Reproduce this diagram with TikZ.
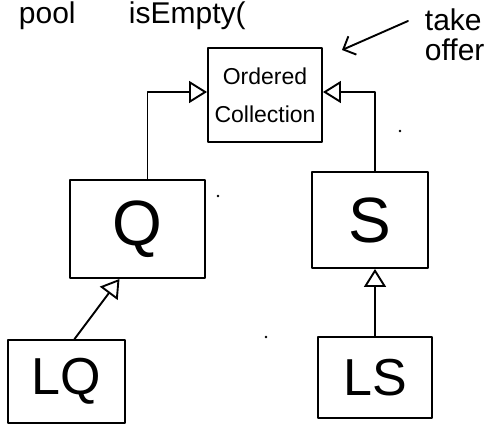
\documentclass[tikz,border=0pt]{standalone}
\usepackage{fontspec}
\setmainfont{Liberation Sans}
\usetikzlibrary{arrows.meta}
\begin{document}
\begin{tikzpicture}[x=1pt,y=-1pt,line width=1.9pt,line join=round,line cap=round,
  box/.style={draw,rectangle,inner sep=0pt},
  inh/.style={-{Triangle[open,length=18pt,width=22pt]}},
  note/.style={-{Straight Barb[length=10pt,width=20pt]}},
  big/.style={font=\fontsize{64}{66}\selectfont},
  mid/.style={font=\fontsize{52}{54}\selectfont},
  hand/.style={font=\fontsize{30}{32}\selectfont},
  stray/.style={fill,circle,inner sep=0pt,minimum size=2.6pt}]
\useasboundingbox (0,0) rectangle (496,430);
% top text
\node[hand,anchor=base west,inner sep=0pt] (pool) at (18,24) {pool};
\node[hand,anchor=base west,inner sep=0pt] (isempty) at (128,24) {isEmpty(};
% boxes
\node[box,minimum width=114pt,minimum height=94pt,align=center,
      font=\fontsize{23}{38}\selectfont] (OC) at (265,95) {Ordered\\Collection};
\node[box,big,minimum width=135pt,minimum height=98pt] (Q) at (137.5,229) {Q};
\node[box,big,minimum width=116pt,minimum height=96pt] (S) at (370,220) {S};
\node[box,mid,minimum width=117pt,minimum height=83pt] (LQ) at (66.5,381.5) {LQ};
\node[box,mid,minimum width=114pt,minimum height=81pt] (LS) at (375,377.5) {LS};
% take offer note
\node[align=left,font=\fontsize{30}{30}\selectfont,inner sep=0pt,anchor=north west] (take) at (424,8) {take\\offer};
\coordinate (nstart) at (408,21);
\coordinate (ntip) at (342,50);
\draw[note] (nstart) -- (ntip);
% inheritance connectors
\draw[inh] ([xshift=10pt]Q.north) |- ([yshift=3pt]OC.west);
\draw[inh] ([xshift=5pt]S.north) |- ([yshift=3pt]OC.east);
\draw[inh] ([xshift=8pt]LQ.north) -- ([xshift=-18pt]Q.south);
\draw[inh] (LS.north) -- (LS.north |- S.south);
% stray dots
\node[stray] (d1) at (218,196) {};
\node[stray] (d2) at (266,337) {};
\node[stray] (d3) at (400,131) {};
\end{tikzpicture}
\end{document}
